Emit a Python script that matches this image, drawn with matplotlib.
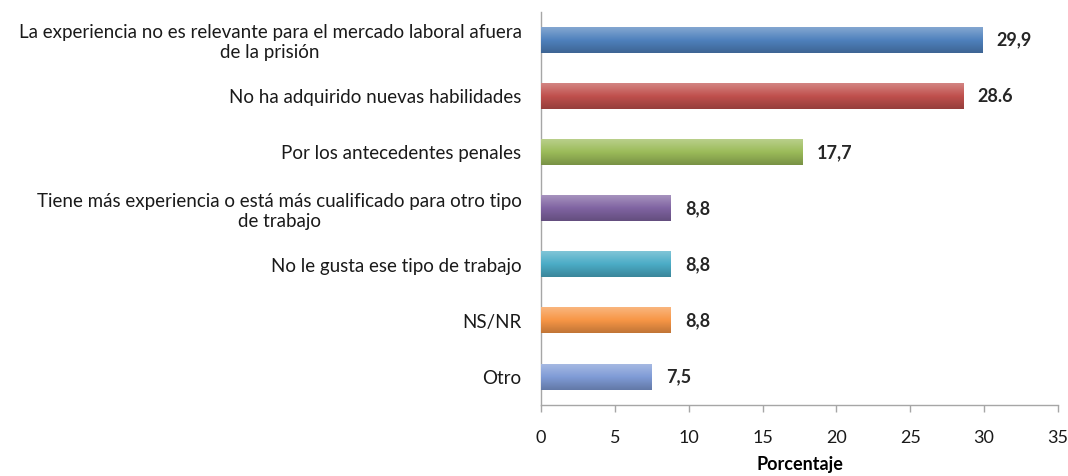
"""Motivos por los que la experiencia laboral en prisión no sirve afuera (barras horizontales)."""

import matplotlib.pyplot as plt
import numpy as np
from matplotlib.colors import LinearSegmentedColormap, to_rgb

categorias = [
    "La experiencia no es relevante para el mercado laboral afuera\nde la prisión",
    "No ha adquirido nuevas habilidades",
    "Por los antecedentes penales",
    "Tiene más experiencia o está más cualificado para otro tipo\nde trabajo",
    "No le gusta ese tipo de trabajo",
    "NS/NR",
    "Otro",
]
porcentajes = [29.9, 28.6, 17.7, 8.8, 8.8, 8.8, 7.5]
etiquetas = ["29,9", "28.6", "17,7", "8,8", "8,8", "8,8", "7,5"]
colores = ["#4F81BD", "#C0504D", "#9BBB59", "#8064A2", "#4BACC6", "#F79646", "#7F9BD6"]
ticks_x = [0, 5, 10, 15, 20, 25, 30, 35]

plt.rcParams["font.family"] = ["Lato", "DejaVu Sans"]


def lighten(color, amount):
    r, g, b = to_rgb(color)
    return (r + (1 - r) * amount, g + (1 - g) * amount, b + (1 - b) * amount)


def darken(color, amount):
    r, g, b = to_rgb(color)
    return (r * (1 - amount), g * (1 - amount), b * (1 - amount))


fig = plt.figure(figsize=(10.68, 4.76), dpi=100)
ax = fig.add_axes([0.5066, 0.149, 0.4840, 0.826])

y = np.arange(len(categorias))
alto = 0.45
barras = ax.barh(y, porcentajes, height=alto, color=colores, zorder=2)

# degradado vertical en cada barra (claro arriba, oscuro abajo)
for barra, c in zip(barras, colores):
    cmap = LinearSegmentedColormap.from_list(
        "g", [lighten(c, 0.3), c, darken(c, 0.22)])
    x0, y0 = barra.get_x(), barra.get_y()
    w, h = barra.get_width(), barra.get_height()
    grad = np.linspace(0, 1, 64).reshape(-1, 1)
    ax.imshow(grad, extent=[x0, x0 + w, y0 + h, y0], origin="upper",
              aspect="auto", cmap=cmap, zorder=3)
    barra.set_alpha(0)

for yi, v, txt in zip(y, porcentajes, etiquetas):
    ax.text(v + 0.95, yi, txt, va="center", ha="left", fontsize=13,
            fontweight="bold", color="#262626")

ax.set_ylim(len(categorias) - 0.5, -0.5)
ax.set_xlim(0, 35)
ax.set_xticks(ticks_x)
ax.set_xticklabels([str(t) for t in ticks_x], fontsize=13)
ax.set_yticks(y)
ax.set_yticklabels(categorias, fontsize=13.5, multialignment="center")
ax.set_xlabel("Porcentaje", fontsize=13, fontweight="bold", labelpad=7)

for s in ["top", "right"]:
    ax.spines[s].set_visible(False)
for s in ["left", "bottom"]:
    ax.spines[s].set_color("#A6A6A6")
    ax.spines[s].set_linewidth(1.0)

ax.tick_params(axis="x", colors="#A6A6A6", labelcolor="#1a1a1a",
               length=5, width=1, pad=13)
ax.tick_params(axis="y", length=0, pad=14, labelcolor="#1a1a1a")

fig.savefig("out.png", dpi=100)
